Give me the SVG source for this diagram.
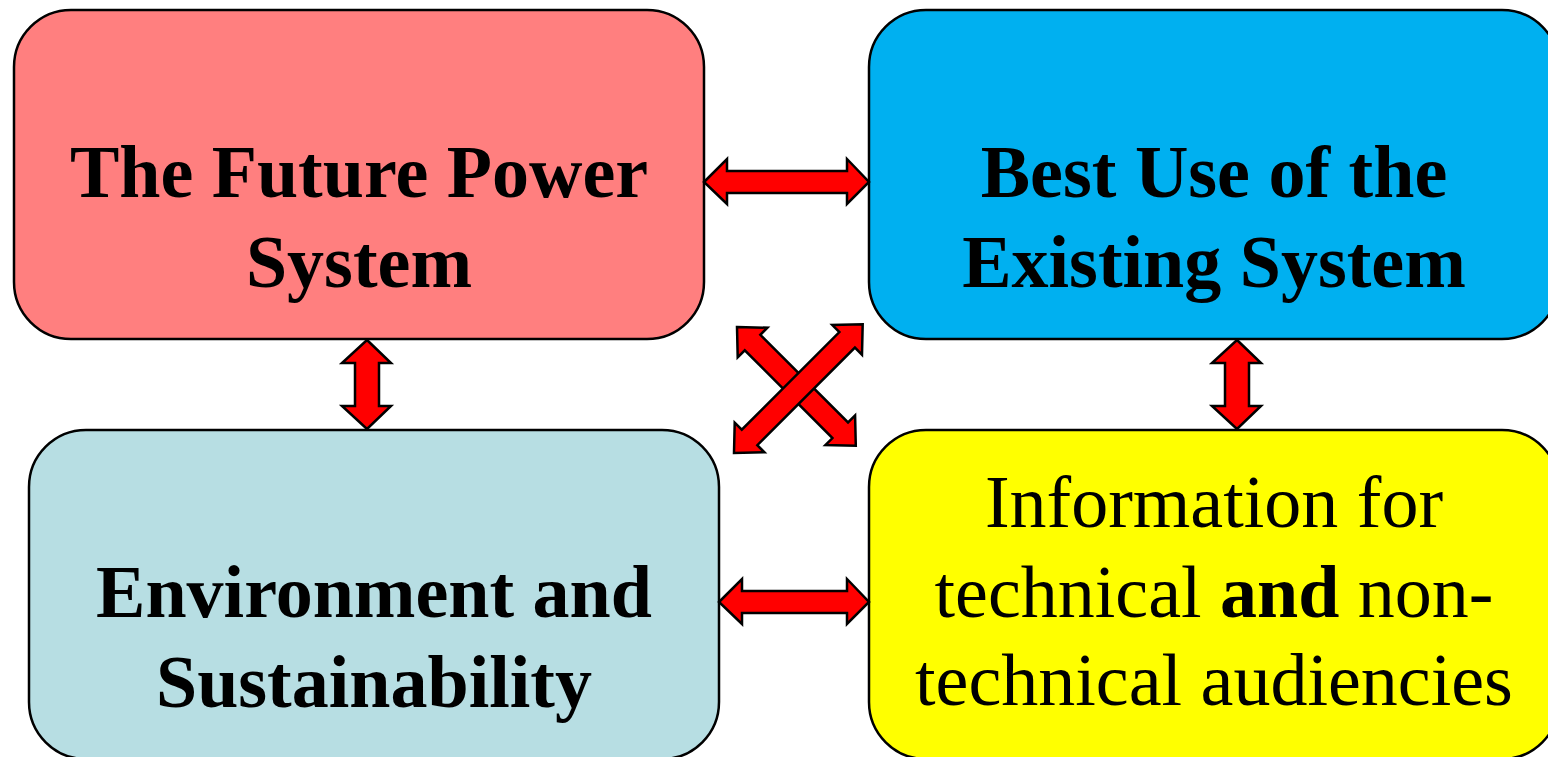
<svg xmlns="http://www.w3.org/2000/svg" width="1548" height="757" viewBox="0 0 1548 757">
<defs>
<style>
.box{stroke:#000;stroke-width:2.5}
.t{font-family:"Liberation Serif","Times New Roman",serif;font-size:74px;fill:#000;text-anchor:middle}
.b{font-weight:bold}
.arr{fill:#FF0000;stroke:#000;stroke-width:2.5;stroke-linejoin:miter}
</style>
</defs>
<rect width="1548" height="757" fill="#fff"/>
<g id="future">
<rect class="box" x="14" y="10" width="690" height="329" rx="57" fill="#FF7F7F"/>
<text class="t b" x="359" y="197">The Future Power</text>
<text class="t b" x="359" y="287">System</text>
</g>
<g id="bestuse">
<rect class="box" x="869" y="10" width="690" height="329" rx="57" fill="#00B0F0"/>
<text class="t b" x="1214" y="197">Best Use of the</text>
<text class="t b" x="1214" y="287">Existing System</text>
</g>
<g id="environment">
<rect class="box" x="29" y="430" width="690" height="329" rx="57" fill="#B7DEE3"/>
<text class="t b" x="374" y="617">Environment and</text>
<text class="t b" x="374" y="707">Sustainability</text>
</g>
<g id="information">
<rect class="box" x="869" y="430" width="690" height="329" rx="57" fill="#FFFF00"/>
<text class="t" x="1214" y="527">Information for</text>
<text class="t" x="1214" y="617">technical <tspan class="b">and</tspan> non-</text>
<text class="t" x="1214" y="705">technical audiencies</text>
</g>
<g id="connectors">
<polygon class="arr" points="704,182 727,159 727,171 847,171 847,159 869,182 847,204 847,193 727,193 727,204"/>
<polygon class="arr" points="719,602 742,579 742,591 847,591 847,579 869,602 847,624 847,613 742,613 742,624"/>
<polygon class="arr" points="367,340 391,363 379,363 379,406 391,406 367,429 342,406 355,406 355,363 342,363"/>
<polygon class="arr" points="1237,340 1261,363 1249,363 1249,406 1261,406 1237,429 1212,406 1225,406 1225,363 1212,363"/>
<polygon class="arr" transform="translate(737,327) rotate(45)" points="0,0 22,-21 22,-11 146,-11 146,-21 168,0 146,21 146,11 22,11 22,21"/>
<polygon class="arr" transform="translate(734,453) rotate(-45)" points="0,0 22,-21 22,-11 160,-11 160,-21 182,0 160,21 160,11 22,11 22,21"/>
</g>
</svg>
